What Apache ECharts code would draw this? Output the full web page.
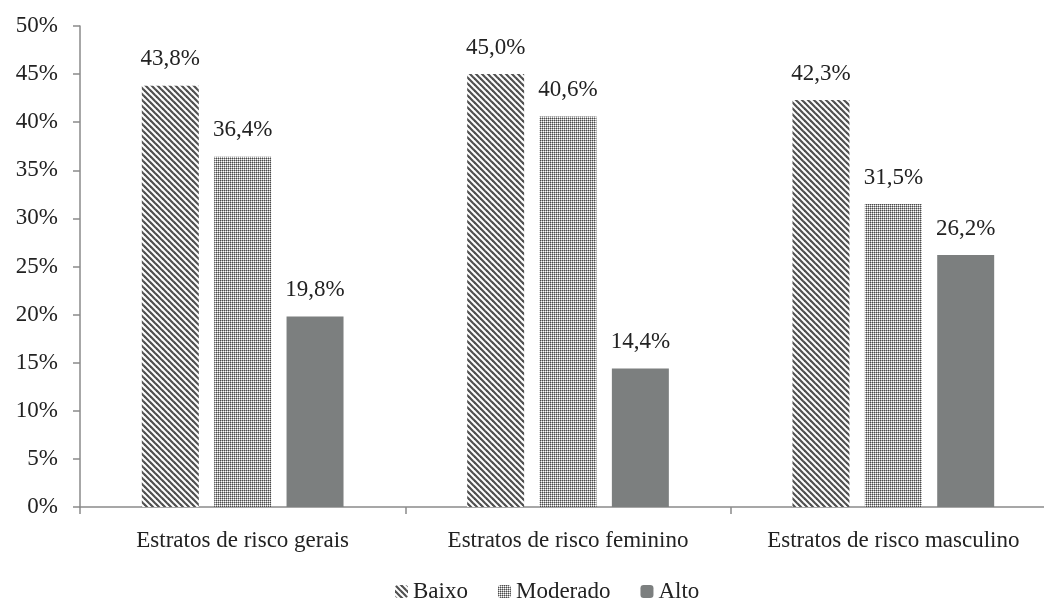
<!DOCTYPE html>
<html>
<head>
<meta charset="utf-8">
<script src="https://cdn.jsdelivr.net/npm/echarts@6/dist/echarts.min.js"></script>
<style>
html,body{margin:0;padding:0;background:#fff;}
#c{width:1044px;height:602px;}
</style>
</head>
<body>
<div id="c"></div>
<script>
var categories = ['Estratos de risco gerais', 'Estratos de risco feminino', 'Estratos de risco masculino'];
var seriesNames = ['Baixo', 'Moderado', 'Alto'];
var baixo = [43.8, 45.0, 42.3];
var moderado = [36.4, 40.6, 31.5];
var alto = [19.8, 14.4, 26.2];

function stripePattern() {
  var s = 6, c = document.createElement('canvas');
  c.width = s; c.height = s;
  var g = c.getContext('2d');
  g.fillStyle = '#ffffff'; g.fillRect(0, 0, s, s);
  g.strokeStyle = '#505050'; g.lineWidth = 2.2;
  for (var k = -1; k <= 1; k++) {
    g.beginPath(); g.moveTo(k * s - 1, -1); g.lineTo(k * s + s + 1, s + 1); g.stroke();
  }
  return c;
}
function checkerPattern() {
  var s = 4, c = document.createElement('canvas');
  c.width = s; c.height = s;
  var g = c.getContext('2d');
  for (var y = 0; y < s; y++) for (var x = 0; x < s; x++) {
    var col = '#a8a8a8';
    if (x % 2 === 0 && y % 2 === 0) col = '#4a4a4a';
    else if (x % 2 === 1 && y % 2 === 1) col = '#ffffff';
    g.fillStyle = col;
    g.fillRect(x, y, 1, 1);
  }
  return c;
}
var fills = [
  { image: stripePattern(), repeat: 'repeat' },
  { image: checkerPattern(), repeat: 'repeat' },
  '#7c7f7f'
];
var dataSets = [baixo, moderado, alto];
var font = 'Liberation Serif, DejaVu Serif, serif';

var chart = echarts.init(document.getElementById('c'), null, { renderer: 'canvas' });
chart.setOption({
  animation: false,
  textStyle: { fontFamily: font },
  grid: { left: 80, top: 26, bottom: 95, width: 976, containLabel: false, outerBoundsMode: 'none' },
  legend: {
    bottom: -6, left: 390, itemWidth: 13, itemHeight: 13, itemGap: 30,
    textStyle: { fontFamily: font, fontSize: 23, color: '#222' },
    data: seriesNames
  },
  xAxis: {
    type: 'category', data: categories,
    axisLine: { lineStyle: { color: '#8a8a8a', width: 1.5 } },
    axisTick: { show: true, length: 7, lineStyle: { color: '#8a8a8a', width: 1.5 } },
    axisLabel: { interval: 0, hideOverlap: false, fontFamily: font, fontSize: 23, color: '#222', margin: 22 }
  },
  yAxis: {
    type: 'value', min: 0, max: 50, interval: 5,
    splitLine: { show: false },
    axisLine: { show: true, lineStyle: { color: '#8a8a8a', width: 1.5 } },
    axisTick: { show: true, length: 7, lineStyle: { color: '#8a8a8a', width: 1.5 } },
    axisLabel: { fontFamily: font, fontSize: 23, color: '#222', margin: 22, formatter: '{value}%' }
  },
  series: seriesNames.map(function (n, i) {
    return {
      name: n, type: 'bar', data: dataSets[i],
      barGap: '27%', barCategoryGap: '38%',
      itemStyle: { color: fills[i] },
      label: {
        show: true, position: 'top', distance: 15,
        fontFamily: font, fontSize: 23, color: '#222',
        formatter: function (p) { return p.value.toFixed(1).replace('.', ',') + '%'; }
      }
    };
  })
});
</script>
</body>
</html>
